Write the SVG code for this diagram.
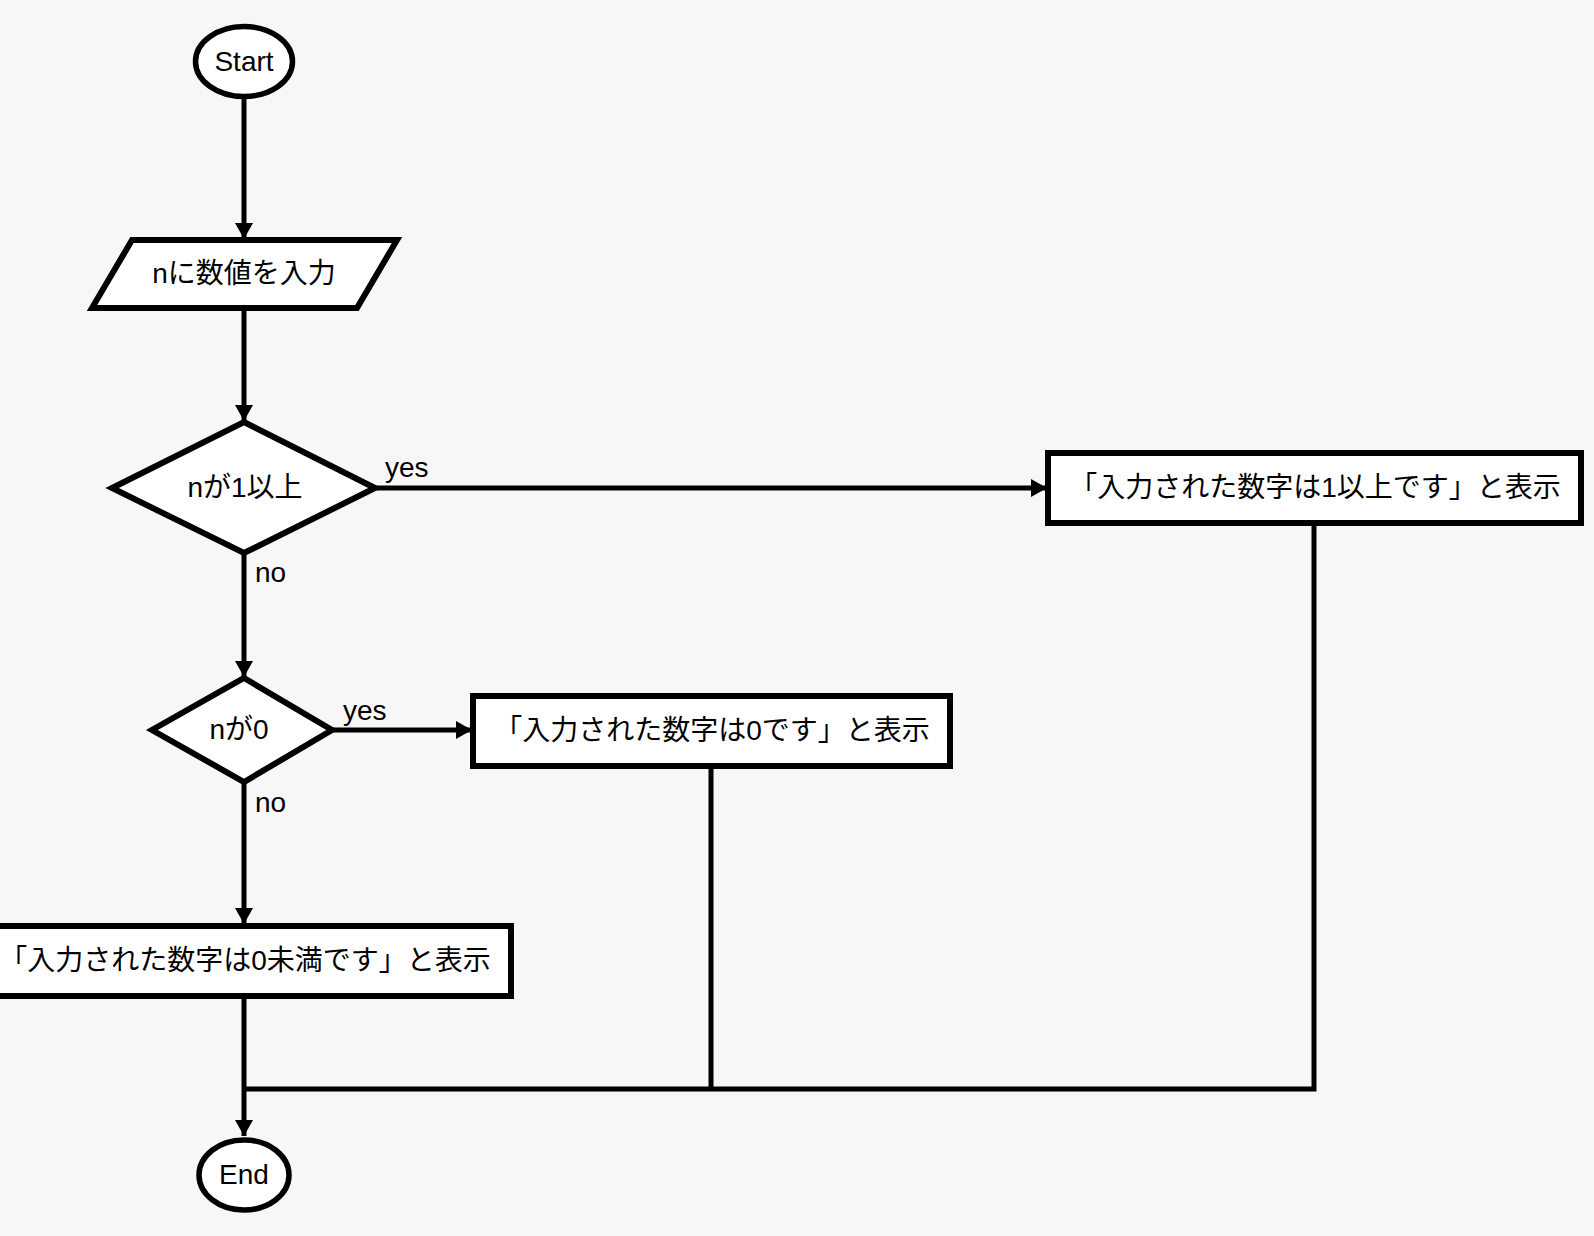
<svg xmlns="http://www.w3.org/2000/svg" width="1594" height="1236" viewBox="0 0 1594 1236">
<style>
.node{fill:#ffffff;stroke:#000000;stroke-width:6}
.oval{fill:#ffffff;stroke:#000000;stroke-width:5.5}
.conn{fill:none;stroke:#000000;stroke-width:5}
text{font-family:"Liberation Sans","Noto Sans CJK JP",sans-serif;font-size:28px;fill:#000000}
.c{text-anchor:middle}
</style>
<defs>
<marker id="arr" markerWidth="16" markerHeight="18" viewBox="0 0 16 18" refX="16" refY="9" orient="auto" markerUnits="userSpaceOnUse">
<path d="M0,0 L16,9 L0,18 Z" fill="#000000"/>
</marker>
</defs>
<rect x="0" y="0" width="1594" height="1236" fill="#f7f7f7"/>
<g id="connectors">
<line class="conn" x1="244" y1="99" x2="244" y2="239" marker-end="url(#arr)"/>
<line class="conn" x1="244" y1="309" x2="244" y2="421" marker-end="url(#arr)"/>
<line class="conn" x1="375" y1="488" x2="1047" y2="488" marker-end="url(#arr)"/>
<line class="conn" x1="244" y1="553" x2="244" y2="677" marker-end="url(#arr)"/>
<line class="conn" x1="332" y1="730" x2="472" y2="730" marker-end="url(#arr)"/>
<line class="conn" x1="244" y1="782" x2="244" y2="924" marker-end="url(#arr)"/>
<line class="conn" x1="244" y1="997" x2="244" y2="1136" marker-end="url(#arr)"/>
<polyline class="conn" points="711,766 711,1089"/>
<polyline class="conn" points="1314,523 1314,1089 244,1089"/>
<text x="385" y="477">yes</text>
<text x="255" y="582">no</text>
<text x="343" y="720">yes</text>
<text x="255" y="812">no</text>
</g>
<g id="start">
<ellipse class="oval" cx="244" cy="61.5" rx="48.5" ry="35"/>
<text class="c" x="244" y="71">Start</text>
</g>
<g id="input">
<polygon class="node" points="92,308 132,240 397,240 357,308"/>
<text class="c" x="244" y="283">nに数値を入力</text>
</g>
<g id="cond1">
<polygon class="node" points="244,422 375,488 244,553 112,488"/>
<text class="c" x="245" y="497">nが1以上</text>
</g>
<g id="cond2">
<polygon class="node" points="244,678 332,730 244,782 152,730"/>
<text class="c" x="239" y="739">nが0</text>
</g>
<g id="out1">
<rect class="node" x="1048" y="453" width="533" height="70"/>
<text class="c" x="1315" y="497">「入力された数字は1以上です」と表示</text>
</g>
<g id="out0">
<rect class="node" x="473" y="696" width="477" height="70"/>
<text class="c" x="712" y="740">「入力された数字は0です」と表示</text>
</g>
<g id="outneg">
<rect class="node" x="-24" y="926" width="535" height="70"/>
<text class="c" x="245" y="970">「入力された数字は0未満です」と表示</text>
</g>
<g id="end">
<ellipse class="oval" cx="244" cy="1175" rx="45" ry="35"/>
<text class="c" x="244" y="1184">End</text>
</g>
</svg>
